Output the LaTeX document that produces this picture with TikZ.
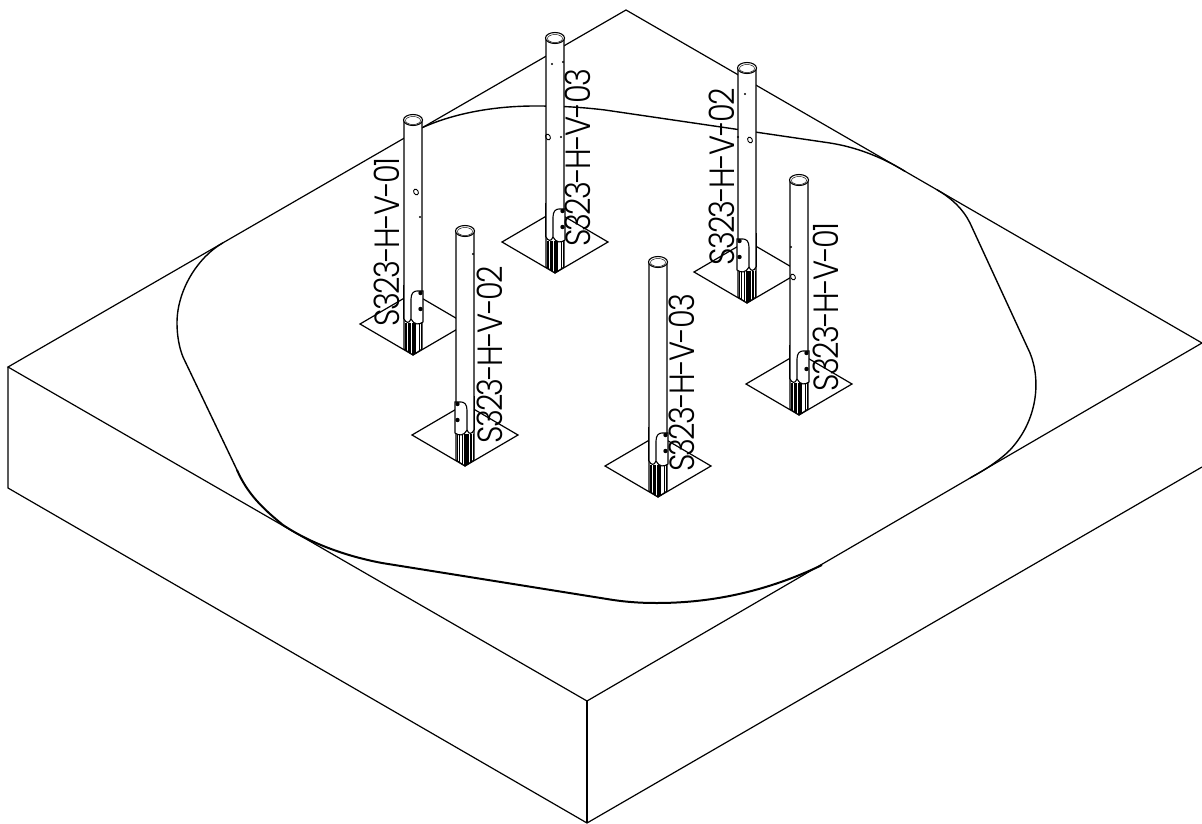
\documentclass[tikz,border=0pt]{standalone}
\usepackage{fontspec}
\setmainfont{Poppins}[UprightFont={* Light},FakeStretch=0.87,LetterSpace=-5]
\tikzset
  {edge/.style={draw=black,line width=1.2pt,line join=miter},
   post/.style={draw=black,line width=1.1pt,fill=white},
   thin post/.style={draw=black,line width=0.45pt},
   tag/.style={rotate=90,inner sep=0pt,outer sep=0pt,font=\fontsize{35}{35}\selectfont}}
% one post standing on its plate : x, y of the foot, side of the bracket
\newcommand{\post}[3]{
  \begin{scope}[shift={(#1,#2)}]
    \draw[edge] (-53,-31) -- (0,0) -- (53,-31) -- (0,-62) -- cycle;
    \draw[post] (-9,-235) -- (-9,-6) -- (0,0) -- (9,-6) -- (9,-235) -- cycle;
    \draw[post] (0,-235) ellipse [x radius=9.5,y radius=5.5];
    \draw[thin post] (0,-234.5) ellipse [x radius=7.5,y radius=4];
    \begin{scope}[xscale=#3]
      \foreach \rx in {-8,-6.5,-5,-3.5,-2.3,-1.2,0,1.2,2.5,6,8}
        {\pgfmathsetmacro{\ry}{-abs(\rx)*0.66}
         \draw[thin post] (\rx,-32) -- (\rx,\ry);}
      \draw[post] (-2,-36) -- (-2,-56) .. controls (-2,-62) and (1,-64) .. (4,-64)
                  -- (10,-64) -- (10,-33) .. controls (6,-30) and (1,-30) .. (-2,-36) -- cycle;
      \draw[post] (-9,-36) .. controls (-7,-32) and (-4,-31) .. (-2,-36);
      \draw[draw=black,line width=1.8pt] (-9.5,-70) -- (-9.5,-36);
      \fill (7.5,-62) circle (2.2);
      \fill (7.5,-46) circle (2.2);
    \end{scope}
  \end{scope}
}
\newcommand{\hole}[2]{\draw[draw=black,line width=0.9pt,rotate around={30:(#1,#2)}] (#1,#2) ellipse [x radius=2.2,y radius=3];}
\newcommand{\speck}[2]{\fill (#1,#2) circle (1.2);}
\begin{document}
\begin{tikzpicture}[x=1pt,y=-1pt]
 \useasboundingbox (0,0) rectangle (1202,824);

 % block
 \draw[edge] (8,367) -- (626,10) -- (1202,343) -- (587,701) -- cycle;
 \draw[edge] (8,367) -- (8,488) -- (587,823) -- (1202,467);
 \draw[edge] (587,701) -- (587,823);

 % outline on the top face
 \draw[draw=black,line width=1.4pt]
      (423,127.3) .. controls (455,113) and (495,106) .. (535,106)
      .. controls (560,106) and (580,107) .. (605,110)
      -- (830,143) .. controls (855,147) and (880,156) .. (905,171.3);
 \draw[draw=black,line width=1.4pt]
      (937,189.8) .. controls (952,198.5) and (963,209) .. (970,223)
      -- (1030,353) .. controls (1041,380) and (1038,420) .. (1010,450)
      .. controls (1000,460) and (985,470) .. (970,478);
 \draw[draw=black,line width=1.4pt]
      (223,242.8) .. controls (198,257) and (177,290) .. (177,323)
      .. controls (177,335) and (179,347) .. (183,357) -- (237,470);
 \draw[draw=black,line width=2pt]
      (237,470) .. controls (247,493) and (262,508) .. (283,525)
      .. controls (310,543) and (345,556) .. (382,563)
      -- (607,599) .. controls (625,602) and (640,603) .. (657,603)
      .. controls (715,603) and (770,590) .. (822,565);

 % posts, from the back to the front
 \post{555}{273}{1}
 \post{747}{303}{-1}
 \post{413}{355}{1}
 \post{799}{415}{1}
 \post{465}{466}{-1}
 \post{658}{497}{1}

 % marks on the posts
 \hole{416}{192} \speck{420}{217}
 \speck{552}{64} \hole{548}{137} \speck{561}{137} \speck{563}{62}
 \speck{745}{94} \hole{750}{140} \speck{738}{137}
 \speck{473}{254}
 \speck{791}{247} \hole{793}{277}

 \node[tag] (tagA) at (387,242) {S323-H-V-01};
 \node[tag] (tagB) at (490,355) {S323-H-V-02};
 \node[tag] (tagC) at (578,158) {S323-H-V-03};
 \node[tag] (tagD) at (722,177) {S323-H-V-02};
 \node[tag] (tagE) at (826,307) {S323-H-V-01};
 \node[tag] (tagF) at (682,383) {S323-H-V-03};
\end{tikzpicture}
\end{document}
